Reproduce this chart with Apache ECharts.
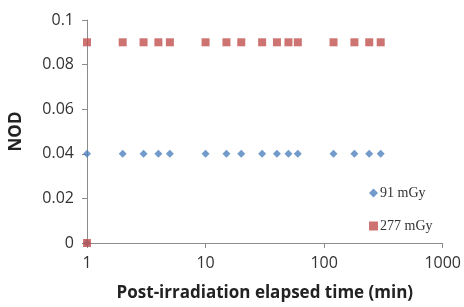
<!DOCTYPE html>
<html>
<head>
<meta charset="utf-8">
<script src="https://cdn.jsdelivr.net/npm/echarts@6/dist/echarts.min.js"></script>
<style>
html, body { margin: 0; padding: 0; background: #fff; }
#main { width: 464px; height: 307px; }
</style>
</head>
<body>
<div id="main"></div>
<script>
// elapsed time (min)
var times = [1, 2, 3, 4, 5, 10, 15, 20, 30, 40, 50, 60, 120, 180, 240, 300];
var nod91 = [0.04, 0.04, 0.04, 0.04, 0.04, 0.04, 0.04, 0.04, 0.04, 0.04, 0.04, 0.04, 0.04, 0.04, 0.04, 0.04];
var nod277 = [0.09, 0.09, 0.09, 0.09, 0.09, 0.09, 0.09, 0.09, 0.09, 0.09, 0.09, 0.09, 0.09, 0.09, 0.09, 0.09];
// baseline point before irradiation
var zeroTime = 1;
var zeroNod = 0;
var seriesNames = ['91 mGy', '277 mGy'];

function pairs(xs, ys) {
    var out = [[zeroTime, zeroNod]];
    for (var i = 0; i < xs.length; i++) out.push([xs[i], ys[i]]);
    return out;
}

var axisGray = '#8c8c8c';
var myChart = echarts.init(document.getElementById('main'));
var option = {
    animation: false,
    textStyle: { fontFamily: 'Open Sans' },
    grid: { left: 87, right: 21, top: 20, bottom: 62 },
    legend: {
        orient: 'vertical',
        left: 364,
        top: 181,
        itemGap: 19,
        itemWidth: 9,
        itemHeight: 9,
        data: [
            { name: seriesNames[0], icon: 'diamond', itemStyle: { color: '#4F81BD' } },
            { name: seriesNames[1], icon: 'rect' }
        ],
        textStyle: { fontFamily: 'Liberation Serif', fontSize: 14, color: '#333', padding: [0, 0, 0, -3] }
    },
    xAxis: {
        type: 'log',
        logBase: 10,
        min: 1,
        max: 1000,
        name: 'Post-irradiation elapsed time (min)',
        nameLocation: 'middle',
        nameGap: 42,
        nameTextStyle: { fontSize: 17, fontWeight: 'bold', color: '#222' },
        axisLine: { lineStyle: { color: axisGray } },
        axisTick: { show: true, length: 5, lineStyle: { color: axisGray } },
        minorTick: { show: false },
        splitLine: { show: false },
        axisLabel: {
            fontSize: 16, color: '#333', margin: 12,
            formatter: function (v) { return String(v); }
        }
    },
    yAxis: {
        type: 'value',
        min: 0,
        max: 0.1,
        interval: 0.02,
        name: 'NOD',
        nameLocation: 'middle',
        nameRotate: 90,
        nameGap: 62,
        nameTextStyle: { fontSize: 17, fontWeight: 'bold', color: '#222' },
        axisLine: { show: true, lineStyle: { color: axisGray } },
        axisTick: { show: true, length: 5, lineStyle: { color: axisGray } },
        splitLine: { show: false },
        axisLabel: { fontSize: 16, color: '#333', margin: 13 }
    },
    series: [
        {
            name: seriesNames[0],
            type: 'scatter',
            symbol: 'diamond',
            symbolSize: 8,
            itemStyle: { color: '#4F81BD' },
            data: pairs(times, nod91)
        },
        {
            name: seriesNames[1],
            type: 'scatter',
            symbol: 'rect',
            symbolSize: 8,
            itemStyle: { color: '#C0504D' },
            data: pairs(times, nod277)
        }
    ]
};
myChart.setOption(option);
</script>
</body>
</html>
